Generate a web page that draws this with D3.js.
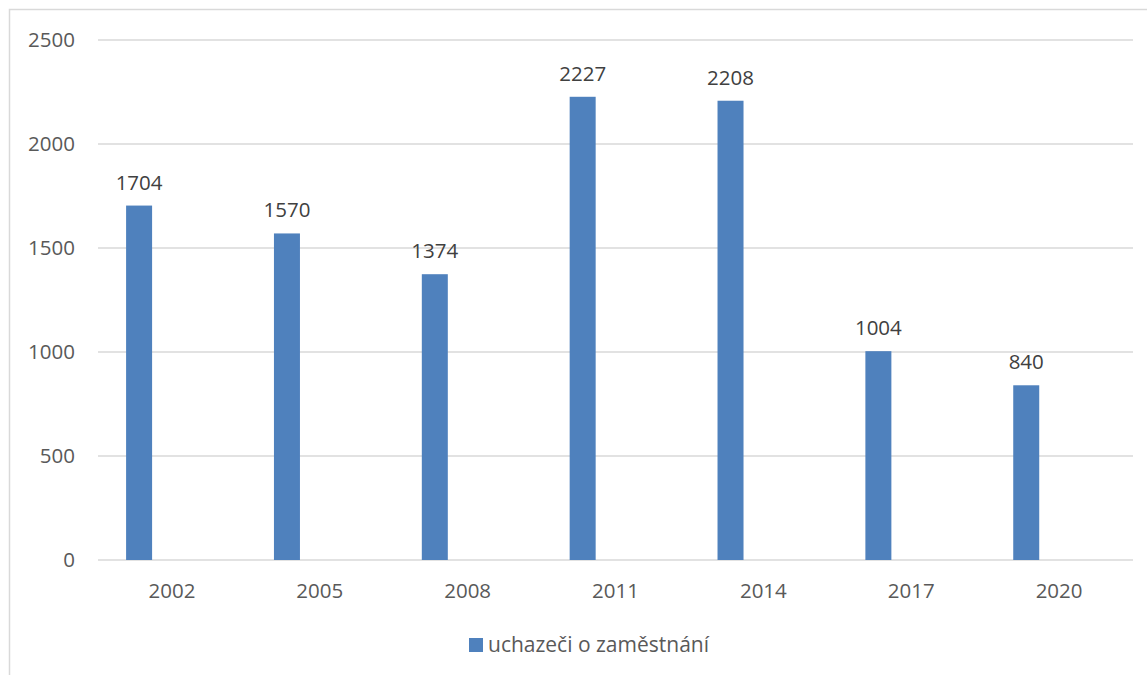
<!DOCTYPE html>
<meta charset="utf-8">
<title>uchazeči o zaměstnání</title>
<style>
  body { margin: 0; padding: 0; background: #fff; overflow: hidden; }
  svg { display: block; font-family: "Open Sans", "Noto Sans", sans-serif; }
  .grid line { stroke: #d9d9d9; stroke-width: 1.3; }
  .tick-label { fill: #595959; font-size: 20.5px; }
  .value-label { fill: #404040; font-size: 20.5px; }
  .legend text { fill: #595959; font-size: 21px; }
</style>
<body>
<script src="https://cdn.jsdelivr.net/npm/d3@7"></script>
<script>
  const years = ["2002", "2005", "2008", "2011", "2014", "2017", "2020"];
  const applicants = [1704, 1570, 1374, 2227, 2208, 1004, 840];
  const yTicks = [0, 500, 1000, 1500, 2000, 2500];
  const seriesName = "uchazeči o zaměstnání";

  const width = 1147, height = 675;
  const plotLeft = 98, plotRight = 1133, plotTop = 40, plotBottom = 560;

  const svg = d3.select("body").append("svg")
    .attr("width", width)
    .attr("height", height);

  // chart frame, runs off the right and bottom edges like the original
  svg.append("rect")
    .attr("x", 9.5).attr("y", 9.5)
    .attr("width", width).attr("height", height)
    .attr("fill", "none")
    .attr("stroke", "#d9d9d9")
    .attr("stroke-width", 1.5);

  var x = d3.scaleBand().domain(years).range([plotLeft, plotRight]);
  var y = d3.scaleLinear().domain([0, 2500]).range([plotBottom, plotTop]);

  // bar sits left in its band (second series of the original is empty)
  var barOffset = x.bandwidth() * 0.19;
  var barWidth = 26;

  svg.append("g").attr("class", "grid")
    .selectAll("line").data(yTicks)
    .enter().append("line")
    .attr("x1", plotLeft).attr("x2", plotRight)
    .attr("y1", d => y(d)).attr("y2", d => y(d));

  svg.append("g")
    .selectAll("text").data(yTicks)
    .enter().append("text")
    .attr("class", "tick-label")
    .attr("x", 75)
    .attr("y", d => y(d))
    .attr("dy", "0.35em")
    .attr("text-anchor", "end")
    .text(d => d);

  svg.append("g")
    .selectAll("text").data(years)
    .enter().append("text")
    .attr("class", "tick-label")
    .attr("x", d => x(d) + x.bandwidth() / 2)
    .attr("y", 598)
    .attr("text-anchor", "middle")
    .text(d => d);

  svg.append("g")
    .selectAll("rect").data(applicants)
    .enter().append("rect")
    .attr("x", (d, i) => x(years[i]) + barOffset)
    .attr("y", d => y(d))
    .attr("width", barWidth)
    .attr("height", d => plotBottom - y(d))
    .attr("fill", "#4f81bd");

  svg.append("g")
    .selectAll("text").data(applicants)
    .enter().append("text")
    .attr("class", "value-label")
    .attr("x", (d, i) => x(years[i]) + barOffset + barWidth / 2)
    .attr("y", d => y(d) - 16)
    .attr("text-anchor", "middle")
    .text(d => d);

  var legend = svg.append("g").attr("class", "legend");
  legend.append("rect")
    .attr("x", 469).attr("y", 638)
    .attr("width", 14).attr("height", 14)
    .attr("fill", "#4f81bd");
  legend.append("text")
    .attr("x", 488).attr("y", 652)
    .text(seriesName);
</script>
</body>
